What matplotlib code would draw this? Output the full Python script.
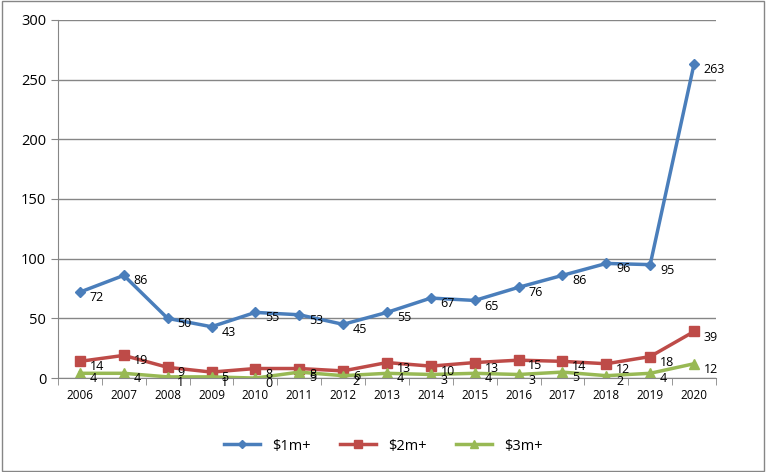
import matplotlib.pyplot as plt
import numpy as np

years = ['2006', '2007', '2008', '2009', '2010', '2011', '2012', '2013',
         '2014', '2015', '2016', '2017', '2018', '2019', '2020']
m1 = [72, 86, 50, 43, 55, 53, 45, 55, 67, 65, 76, 86, 96, 95, 263]
m2 = [14, 19, 9, 5, 8, 8, 6, 13, 10, 13, 15, 14, 12, 18, 39]
m3 = [4, 4, 1, 1, 0, 5, 2, 4, 3, 4, 3, 5, 2, 4, 12]

plt.rcParams['font.family'] = ['Open Sans', 'DejaVu Sans']

fig = plt.figure(figsize=(7.66, 4.72), dpi=100)
ax = fig.add_axes([0.0757, 0.199, 0.859, 0.759])

x = np.arange(len(years))
series = [
    (m1, '$1m+', '#4A7EBB', 'D', 5),
    (m2, '$2m+', '#BE4B48', 's', 7),
    (m3, '$3m+', '#98B954', '^', 7),
]
for vals, name, col, mk, ms in series:
    ax.plot(x, vals, color=col, lw=2.5, marker=mk, markersize=ms, label=name.replace('$', r'\$'))
    for xi, v in zip(x, vals):
        ax.annotate(str(v), (xi, v), xytext=(7, -4), textcoords='offset points',
                    ha='left', va='center', fontsize=9, color='black')

ax.set_xlim(-0.5, len(years) - 0.5)
ax.set_ylim(0, 300)
ax.set_yticks(range(0, 301, 50))
ax.set_xticks(x)
ax.set_xticklabels(years, fontsize=8.5)
ax.set_xticks(np.arange(-0.5, len(years), 1), minor=True)
ax.tick_params(axis='x', which='major', length=0, pad=8)
ax.tick_params(axis='x', which='minor', length=5, color='#868686')
ax.tick_params(axis='y', length=5, color='#868686', labelsize=10.5)
ax.yaxis.grid(True, color='#868686', lw=1)
ax.set_axisbelow(True)
for s in ['top', 'right']:
    ax.spines[s].set_visible(False)
ax.spines['left'].set_color('#868686')
ax.spines['bottom'].set_color('#868686')

fig.legend(loc='center', bbox_to_anchor=(0.5, 0.055), ncol=3, frameon=False,
           fontsize=10.5, handlelength=2.5, columnspacing=2.0, markerscale=0.8)

border = plt.Rectangle((0.002, 0.002), 0.996, 0.996, transform=fig.transFigure,
                       fill=False, edgecolor='#868686', lw=1)
fig.patches.append(border)

fig.savefig('out.png', dpi=100)
